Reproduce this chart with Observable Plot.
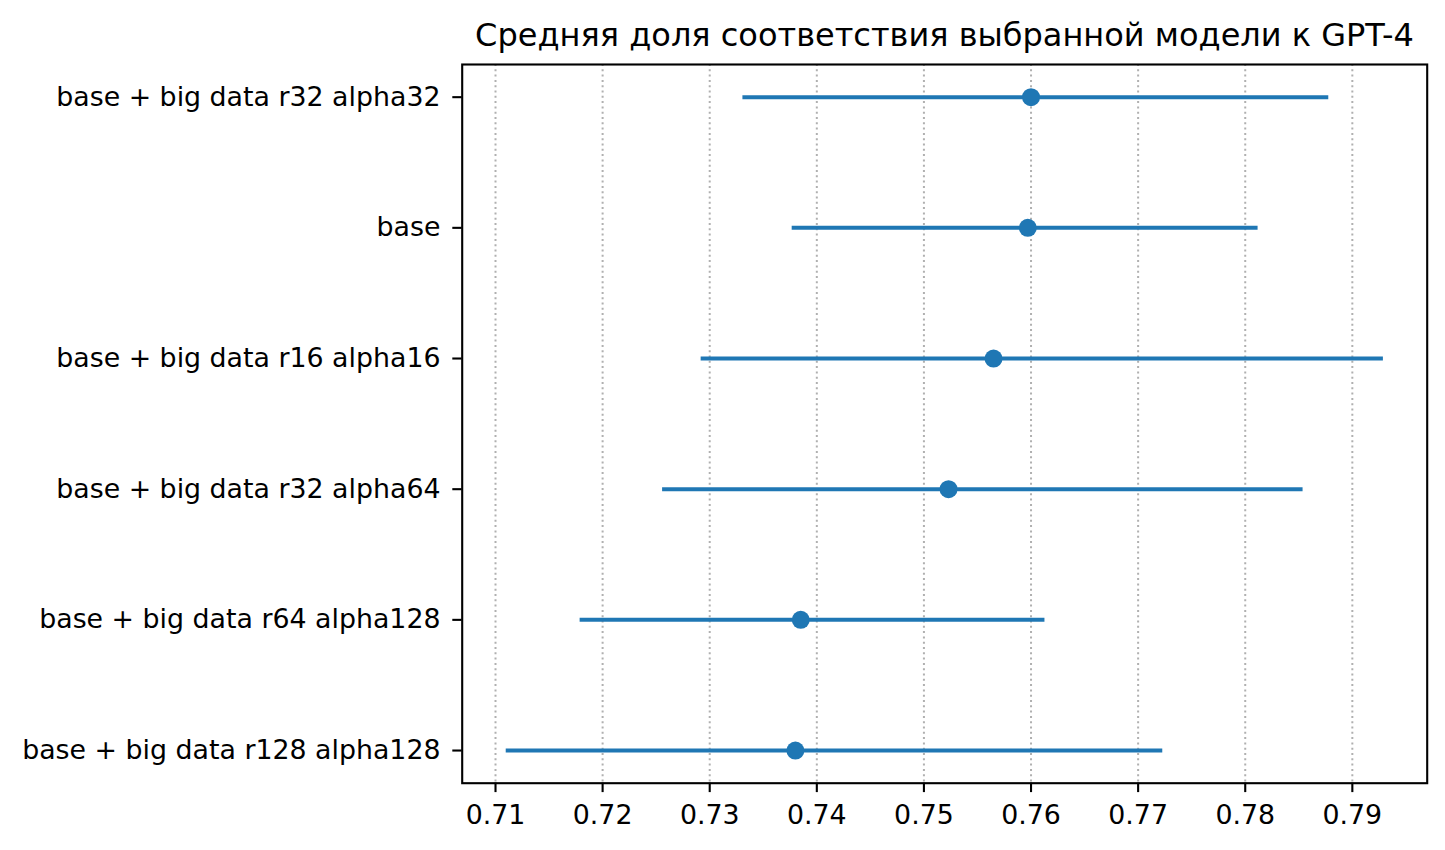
<!DOCTYPE html>
<html>
<head>
<meta charset="utf-8">
<script src="https://cdn.jsdelivr.net/npm/d3@7"></script>
<script src="https://cdn.jsdelivr.net/npm/@observablehq/plot@0.6"></script>
<style>
  html, body { margin: 0; padding: 0; background: white; }
  #title {
    width: 1445px; height: 54px; box-sizing: border-box;
    padding: 19px 18px 0 462px; text-align: center;
    font-family: "DejaVu Sans", sans-serif; font-size: 32px; line-height: 32px;
    color: black; white-space: nowrap;
  }
</style>
</head>
<body>
<div id="title">Средняя доля соответствия выбранной модели к GPT-4</div>
<div id="chart"></div>
<script>
const models = [
  "base + big data r32 alpha32",
  "base",
  "base + big data r16 alpha16",
  "base + big data r32 alpha64",
  "base + big data r64 alpha128",
  "base + big data r128 alpha128"
];
const means = [0.7600, 0.7597, 0.7565, 0.7523, 0.7385, 0.7380];
const lower = [0.7331, 0.7377, 0.7292, 0.7256, 0.7179, 0.7110];
const upper = [0.7878, 0.7812, 0.7929, 0.7854, 0.7613, 0.7723];
const xTicks = [0.71, 0.72, 0.73, 0.74, 0.75, 0.76, 0.77, 0.78, 0.79];

const data = models.map((m, i) => ({model: m, mean: means[i], lo: lower[i], hi: upper[i]}));
const blue = "#1f77b4";

const chart = Plot.plot({
  width: 1445,
  height: 796,
  marginTop: 10,
  marginBottom: 67.3,
  marginLeft: 461.7,
  marginRight: 18.3,
  style: {fontFamily: "DejaVu Sans, sans-serif", fontSize: "26.8px", color: "black", background: "white", overflow: "visible"},
  x: {domain: [0.70689, 0.79699], ticks: xTicks, tickFormat: d3.format(".2f"), label: null},
  y: {type: "point", domain: models, padding: 0.25, round: false, label: null},
  marks: [
    Plot.gridX(xTicks, {stroke: "#b0b0b0", strokeOpacity: 1, strokeWidth: 2, strokeDasharray: "2,3.3"}),
    Plot.ruleY(data, {y: "model", x1: "lo", x2: "hi", stroke: blue, strokeWidth: 4}),
    Plot.dot(data, {x: "mean", y: "model", r: 9, fill: blue, stroke: null}),
    Plot.frame({stroke: "black", strokeWidth: 2.1}),
    Plot.axisX({ticks: xTicks, tickFormat: d3.format(".2f"), tickSize: 9.4, tickPadding: 12, strokeWidth: 2.1, label: null, fontSize: 26.8}),
    Plot.axisY({tickSize: 9.4, tickPadding: 12.3, strokeWidth: 2.1, label: null, fontSize: 26.8})
  ]
});
document.getElementById("chart").appendChild(chart);
</script>
</body>
</html>
